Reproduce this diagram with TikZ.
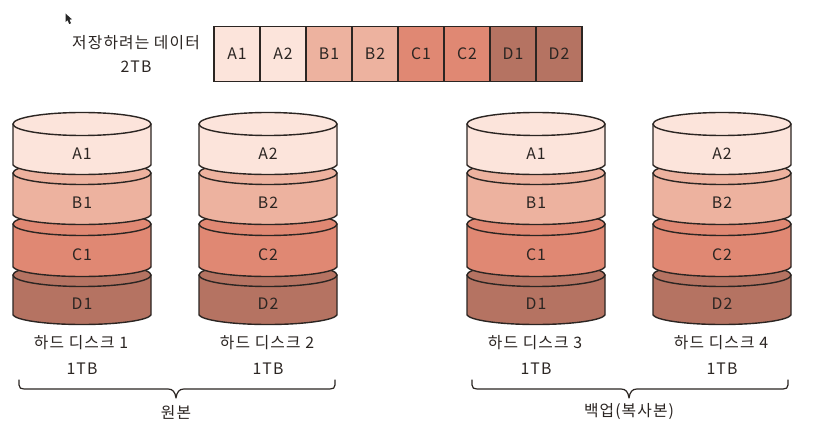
\documentclass[tikz,border=0pt]{standalone}
\usepackage{fontspec}
\setmainfont[LetterSpace=7]{Noto Sans CJK KR}
\definecolor{ink}{HTML}{2B2522}
\definecolor{colA}{HTML}{FCE4DB}
\definecolor{colB}{HTML}{EDB29F}
\definecolor{colC}{HTML}{E08873}
\definecolor{colD}{HTML}{B57362}
\tikzset{
  lbl/.style={text=ink,font=\fontsize{15.8}{17}\selectfont,inner sep=0pt,anchor=center},
  cellbox/.style={draw=ink,line width=1.3pt,minimum width=46pt,minimum height=55pt,inner sep=0pt,text=ink,font=\fontsize{15.8}{17}\selectfont},
  edge/.style={draw=ink,line width=1.4pt,line join=round},
  bracket/.style={draw=ink,line width=1.2pt,line cap=round,line join=round}
}
\newcommand{\disklayer}[6]{% name, cx, cy, h, colour, label
  \begin{scope}[shift={(#2,#3)}]
    \path[edge,fill=#5] (-69,0) -- (-69,#4) .. controls (-66,#4+5) and (-38,#4+9.5) .. (0,#4+9.5)
      .. controls (38,#4+9.5) and (66,#4+5) .. (69,#4) -- (69,0) -- cycle;
    \path[edge,fill=#5] (0,0) ellipse [x radius=69,y radius=11.5];
    \node[lbl] (#1) at (0,#4/2+9) {#6};
  \end{scope}
}
\newcommand{\diskstack}[3]{% prefix, cx, suffix number
  \disklayer{#1d}{#2}{275}{40}{colD}{D#3}
  \disklayer{#1c}{#2}{224}{43}{colC}{C#3}
  \disklayer{#1b}{#2}{173}{42}{colB}{B#3}
  \disklayer{#1a}{#2}{124}{41}{colA}{A#3}
}
\begin{document}
\begin{tikzpicture}[x=1pt,y=-1pt]
\useasboundingbox (0,0) rectangle (818,435);
\fill[white] (0,0) rectangle (818,435);
% cursor
\fill[black!85] (65.5,13.5) -- (65.5,22) -- (67.6,20.2) -- (69.2,24) -- (71,23.2) -- (69.4,19.6) -- (72,19.4) -- cycle;
% title
\node[lbl] (title) at (136,43) {저장하려는 데이터};
\node[lbl] (size) at (136,67) {2TB};
% bar
\foreach \n/\t/\c [count=\i from 0] in {a/A1/colA,b/A2/colA,c/B1/colB,d/B2/colB,e/C1/colC,f/C2/colC,g/D1/colD,h/D2/colD}{
  \node[cellbox,fill=\c] (cell\n) at (237+\i*46,54) {\t};
}
% disks
\diskstack{p}{82}{1}
\diskstack{q}{268}{2}
\diskstack{r}{536}{1}
\diskstack{s}{722}{2}
% captions
\node[lbl] (capa) at (81,343) {하드 디스크 1};
\node[lbl] (capb) at (267,343) {하드 디스크 2};
\node[lbl] (capc) at (535,343) {하드 디스크 3};
\node[lbl] (capd) at (721,343) {하드 디스크 4};
\node[lbl] (tba) at (82,369) {1TB};
\node[lbl] (tbb) at (268,369) {1TB};
\node[lbl] (tbc) at (536,369) {1TB};
\node[lbl] (tbd) at (722,369) {1TB};
% braces
\coordinate (la) at (19,380);
\coordinate (ra) at (335,380);
\coordinate (ta) at (176,398);
\draw[bracket] (la) -- (19,385) .. controls (19,388) and (21,389) .. (24,389) -- (168,389)
  .. controls (173,389) and (175,392) .. (ta) .. controls (177,392) and (179,389) .. (184,389)
  -- (330,389) .. controls (333,389) and (335,388) .. (335,385) -- (ra);
\coordinate (lb) at (472,380);
\coordinate (rb) at (788,380);
\coordinate (tb) at (629,398);
\draw[bracket] (lb) -- (472,385) .. controls (472,388) and (474,389) .. (477,389) -- (621,389)
  .. controls (626,389) and (628,392) .. (tb) .. controls (630,392) and (632,389) .. (637,389)
  -- (783,389) .. controls (786,389) and (788,388) .. (788,385) -- (rb);
\node[lbl] (oa) at (176,412) {원본};
\node[lbl] (ob) at (629,412) {백업(복사본)};
\end{tikzpicture}
\end{document}
